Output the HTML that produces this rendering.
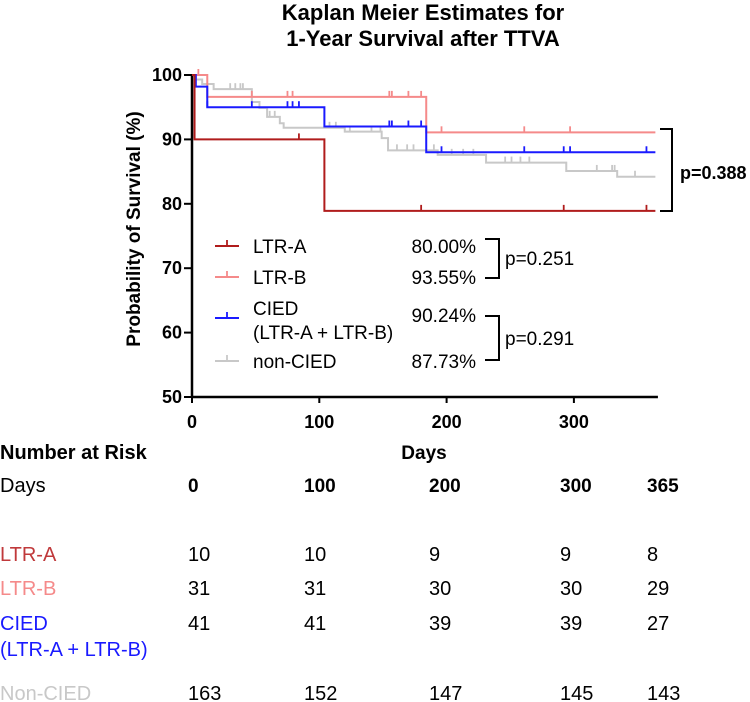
<!DOCTYPE html>
<html><head><meta charset="utf-8"><style>
body{margin:0;background:#fff;}
svg{display:block;font-family:"Liberation Sans",Arial,sans-serif;}
</style></head><body>
<svg id="chart" width="750" height="702" viewBox="0 0 750 702">
<text x="423" y="20" text-anchor="middle" font-size="22" font-weight="bold">Kaplan Meier Estimates for</text>
<text x="423" y="46" text-anchor="middle" font-size="22" font-weight="bold">1-Year Survival after TTVA</text>
<text transform="translate(140,229) rotate(-90)" text-anchor="middle" font-size="19" font-weight="bold">Probability of Survival (%)</text>
<g id="axes"></g>
<g id="series"></g>
<g id="legend">
 <text x="680" y="179" font-size="18" font-weight="bold">p=0.388</text>
 <path d="M660,129 H672 V211 H660" fill="none" stroke="#000" stroke-width="2"/>
 <path d="M485,239 H499 V278 H485" fill="none" stroke="#000" stroke-width="2"/>
 <path d="M485,316 H499 V360 H485" fill="none" stroke="#000" stroke-width="2"/>
 <text x="505" y="265" font-size="19">p=0.251</text>
 <text x="505" y="345" font-size="19">p=0.291</text>
</g>
<g id="table">
 <text x="0" y="459" font-size="20" font-weight="bold">Number at Risk</text>
 <text x="424" y="459" text-anchor="middle" font-size="19" font-weight="bold">Days</text>
 <text x="0" y="492" font-size="20">Days</text>
</g>
</svg>
<script>
const xTicks=[0,100,200,300];
const yTicks=[50,60,70,80,90,100];
const ltrA=[[0,100],[2,90],[104,78.9],[364,78.9]];
const ltrACens=[84,180,292,357];
const ltrB=[[0,100],[12,96.6],[184,91.1],[364,91.1]];
const ltrBCens=[5,47,75,79,155,157,170,180,196,261,297];
const cied=[[0,100],[3,98.2],[12,95.0],[104,92.0],[184,88.0],[364,88.0]];
const ciedCens=[12,47,75,79,84,155,157,170,180,196,261,292,297,357];
const nonCied=[[0,100],[3,99.3],[8,98.6],[17,97.8],[47,95.8],[53,94.9],[59,93.5],[69,92.5],[72,91.8],[120,91.2],[149,90.2],[154,88.3],[193,87.6],[231,86.4],[294,85.1],[334,84.2],[364,84.2]];
const nonCiedCens=[30,34,38,40,61,65,108,113,124,141,148,161,169,174,190,204,213,221,246,251,258,265,318,330,332,348];
const riskDays=["0","100","200","300","365"];
const riskGroups=["LTR-A","LTR-B","CIED","Non-CIED"];
const riskLTRA=[10,10,9,9,8];
const riskLTRB=[31,31,30,30,29];
const riskCIED=[41,41,39,39,27];
const riskNon=[163,152,147,145,143];
const legendLabels=["LTR-A","LTR-B","CIED","non-CIED"];
const legendPct=["80.00%","93.55%","90.24%","87.73%"];

const NS="http://www.w3.org/2000/svg";
const X=d=>192+d*1.273;
const Y=p=>75+(100-p)*6.44;
function mk(tag,attrs,parent,txt){const e=document.createElementNS(NS,tag);for(const k in attrs)e.setAttribute(k,attrs[k]);if(txt!==undefined)e.textContent=txt;parent.appendChild(e);return e;}
const axes=document.getElementById('axes');
let e=mk('line',{x1:X(0),y1:Y(100),x2:X(0),y2:Y(50),stroke:'#000','stroke-width':2.5},axes);


e=mk('line',{x1:X(0)-1,y1:Y(50),x2:X(366),y2:Y(50),stroke:'#000','stroke-width':2.5},axes);


yTicks.forEach(v=>{
 const t=mk('line',{x1:X(0)-8,y1:Y(v),x2:X(0),y2:Y(v),stroke:'#000','stroke-width':2},axes);
 
 
 const l=mk('text',{x:X(0)-10,y:Y(v)+6,'text-anchor':'end','font-size':18,'font-weight':'bold'},axes,String(v));
 
 
});
xTicks.forEach(v=>{
 const t=mk('line',{x1:X(v),y1:Y(50),x2:X(v),y2:Y(50)+6,stroke:'#000','stroke-width':2},axes);
 
 
 const l=mk('text',{x:X(v),y:428,'text-anchor':'middle','font-size':18,'font-weight':'bold'},axes,String(v));
 
 
});
const series=document.getElementById('series');
function stepPath(pts){let d='M'+X(pts[0][0])+','+Y(pts[0][1]);for(let i=1;i<pts.length;i++){d+=' H'+X(pts[i][0])+' V'+Y(pts[i][1]);}return d;}
function valAt(pts,day){let v=pts[0][1];for(const p of pts){if(p[0]<=day)v=p[1];}return v;}
function drawSeries(pts,cens,color,name,w){
 const g=mk('g',{},series);
 
 
 mk('path',{d:stepPath(pts),fill:'none',stroke:color,'stroke-width':w},g);
 cens.forEach(c=>{
  const y=Y(valAt(pts,c));
  const m=mk('line',{x1:X(c),y1:y,x2:X(c),y2:y-6,stroke:color,'stroke-width':1.8},g);
  
  
 });
}
const colA='#b01c1c',colB='#f58a8a',colC='#1a1aff',colN='#c8c8c8';
drawSeries(nonCied,nonCiedCens,colN,'non-cied',2);
drawSeries(ltrB,ltrBCens,colB,'ltr-b',2);
drawSeries(cied,ciedCens,colC,'cied',2);
drawSeries(ltrA,ltrACens,colA,'ltr-a',2);

const legend=document.getElementById('legend');
const legCols=[colA,colB,colC,colN];
const legY=[246,277,318,361];
legendLabels.forEach((lab,i)=>{
 const y=legY[i];
 const ln=mk('line',{x1:215,y1:y,x2:239,y2:y,stroke:legCols[i],'stroke-width':2},legend);
 
 
 mk('line',{x1:227,y1:y,x2:227,y2:y-6,stroke:legCols[i],'stroke-width':1.8},legend);
 if(i===2){
  const t1=mk('text',{x:253,y:315,'font-size':19},legend,'CIED');
  
  
  const t2=mk('text',{x:253,y:339,'font-size':19},legend,'(LTR-A + LTR-B)');
  
  
 } else {
  const t=mk('text',{x:253,y:y+7,'font-size':19},legend,lab);
  
  
 }
 const p=mk('text',{x:476,y:(i===2?y+4:y+7),'text-anchor':'end','font-size':19},legend,legendPct[i]);
 
 
});

const table=document.getElementById('table');
const colX=[188,304,429,560,647];
riskDays.forEach((d,i)=>{
 const t=mk('text',{x:colX[i],y:492,'font-size':19,'font-weight':'bold'},table,d);
 
 
});
const rows=[[riskLTRA,'LTR-A','#c0393b',561],[riskLTRB,'LTR-B','#f58a8a',595],[riskCIED,'CIED','#1a1aff',630],[riskNon,'Non-CIED','#c8c8c8',700]];
rows.forEach(r=>{
 const lab=mk('text',{x:0,y:r[3],'font-size':20,fill:r[2]},table,r[1]);
 
 
 r[0].forEach((v,i)=>{
  const t=mk('text',{x:colX[i],y:r[3],'font-size':20},table,String(v));
  
  
 });
});
const sub=mk('text',{x:0,y:656,'font-size':20,fill:'#1a1aff'},table,'(LTR-A + LTR-B)');


</script>
</body></html>
